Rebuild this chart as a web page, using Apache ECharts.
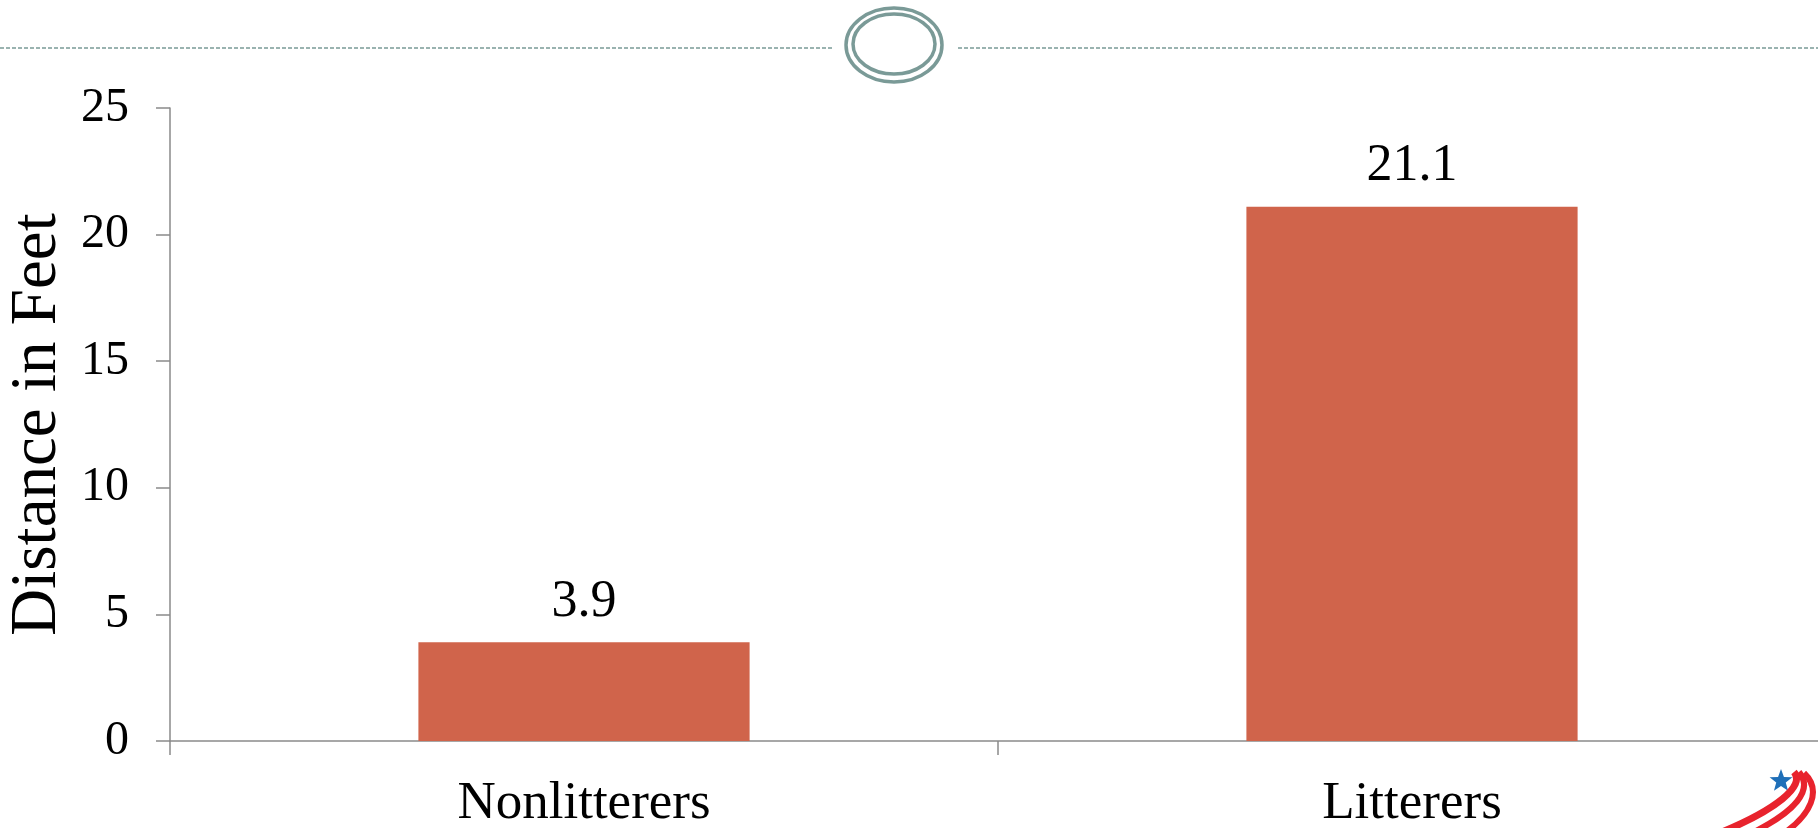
<!DOCTYPE html>
<html>
<head>
<meta charset="utf-8">
<script src="https://cdn.jsdelivr.net/npm/echarts@6/dist/echarts.min.js"></script>
<style>
  html, body { margin: 0; padding: 0; background: #fff; }
  #chart { width: 1818px; height: 828px; }
</style>
</head>
<body>
<div id="chart"></div>
<script>
const categories = ['Nonlitterers', 'Litterers'];
const distanceValues = [3.9, 21.1];
const yAxisTitle = 'Distance in Feet';

const FONT = '"Liberation Serif", "Times New Roman", serif';
const AXIS_GRAY = '#8a8a8a';
const DECOR = '#7a9a97';

function starPoints(cx, cy, R, r) {
  const pts = [];
  for (let i = 0; i < 10; i++) {
    const a = -Math.PI / 2 + i * Math.PI / 5;
    const rad = i % 2 === 0 ? R : r;
    pts.push([cx + rad * Math.cos(a), cy + rad * Math.sin(a)]);
  }
  return pts;
}

const chart = echarts.init(document.getElementById('chart'), null, { renderer: 'canvas' });
chart.setOption({
  backgroundColor: '#ffffff',
  animation: false,
  grid: { left: 170, right: -8, top: 108, bottom: 87, outerBoundsMode: 'none', containLabel: false },
  xAxis: {
    type: 'category',
    data: categories,
    axisLine: { show: true, lineStyle: { color: AXIS_GRAY, width: 1.5 } },
    axisTick: { show: true, alignWithLabel: false, length: 14, lineStyle: { color: AXIS_GRAY, width: 1.5 } },
    axisLabel: { color: '#000', fontFamily: FONT, fontSize: 53, margin: 37 },
    splitLine: { show: false }
  },
  yAxis: {
    type: 'value',
    min: 0, max: 25, interval: 5,
    name: yAxisTitle,
    nameLocation: 'middle',
    nameGap: 99,
    nameTextStyle: { color: '#000', fontFamily: FONT, fontSize: 65 },
    axisLine: { show: true, lineStyle: { color: AXIS_GRAY, width: 1.5 } },
    axisTick: { show: true, length: 14, lineStyle: { color: AXIS_GRAY, width: 1.5 } },
    axisLabel: { color: '#000', fontFamily: FONT, fontSize: 48, margin: 41 },
    splitLine: { show: false }
  },
  series: [{
    type: 'bar',
    data: distanceValues,
    barWidth: '40%',
    itemStyle: { color: '#d0644b' },
    label: {
      show: true, position: 'top', distance: 14,
      color: '#000', fontFamily: FONT, fontSize: 52
    }
  }],
  graphic: [
    { type: 'line', shape: { x1: 0, y1: 48, x2: 832, y2: 48 },
      style: { stroke: DECOR, lineWidth: 1.5, lineDash: [4, 2] }, silent: true },
    { type: 'line', shape: { x1: 958, y1: 48, x2: 1818, y2: 48 },
      style: { stroke: DECOR, lineWidth: 1.5, lineDash: [4, 2] }, silent: true },
    { type: 'ellipse', shape: { cx: 894, cy: 45, rx: 48, ry: 37 },
      style: { fill: 'none', stroke: DECOR, lineWidth: 3.5 }, silent: true },
    { type: 'ellipse', shape: { cx: 894, cy: 44, rx: 41, ry: 30 },
      style: { fill: 'none', stroke: DECOR, lineWidth: 3.5 }, silent: true },
    { type: 'polygon', shape: { points: starPoints(1781, 781, 12, 5) },
      style: { fill: '#1f6fb8' }, silent: true },
    { type: 'bezierCurve', shape: { x1: 1794, y1: 772, cpx1: 1806, cpy1: 786, cpx2: 1775, cpy2: 810, x2: 1722, y2: 832 },
      style: { stroke: '#e8232d', lineWidth: 7, fill: 'none' }, silent: true },
    { type: 'bezierCurve', shape: { x1: 1799, y1: 772, cpx1: 1814, cpy1: 790, cpx2: 1795, cpy2: 812, x2: 1750, y2: 834 },
      style: { stroke: '#e8232d', lineWidth: 6, fill: 'none' }, silent: true },
    { type: 'bezierCurve', shape: { x1: 1804, y1: 773, cpx1: 1822, cpy1: 790, cpx2: 1812, cpy2: 815, x2: 1780, y2: 836 },
      style: { stroke: '#e8232d', lineWidth: 6, fill: 'none' }, silent: true }
  ]
});
</script>
</body>
</html>
